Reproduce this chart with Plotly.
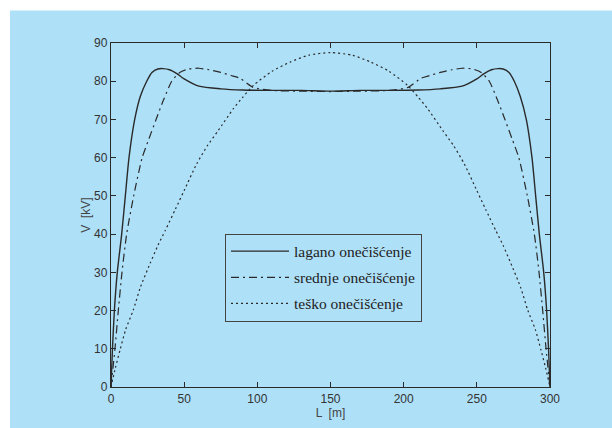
import plotly.graph_objects as go

# --- data ---
lagano_L = [0, 1, 2.3, 4.3, 7.3, 9.8, 12.3, 16.2, 20, 24.4, 28, 32, 35.5, 40, 45, 50, 60, 75, 90, 110, 130, 150,
            170, 190, 210, 225, 240, 250, 255, 260, 264.5, 268, 272, 275.6, 279.7, 283.8, 287.7, 290.2, 292.7,
            295.7, 297.7, 299, 300]
lagano_V = [0, 10, 20, 30, 40, 50, 60, 70, 76, 80, 82.3, 83.2, 83.3, 83, 82, 80.6, 78.7, 78, 77.7, 77.6, 77.6, 77.4,
            77.6, 77.6, 77.7, 78, 78.7, 80.6, 82, 83, 83.3, 83.2, 82.3, 80, 76, 70, 60, 50, 40,
            30, 20, 10, 0]

srednje_L = [0, 2.7, 5, 7.5, 10.7, 15.5, 21.3, 26, 30.8, 35.8, 41.5, 47, 53, 60, 67, 75, 82, 88, 97, 110, 130, 150,
             170, 190, 203, 212, 218, 225, 233, 240, 247, 253, 258.5, 264.2, 269.2, 274, 278.7, 284.5, 289.3,
             292.5, 295, 297.3, 300]
srednje_V = [0, 10, 20, 30, 40, 50, 60, 65, 70, 75, 80, 82.3, 83.2, 83.4, 83, 82.3, 81.5, 80.8, 78.4, 77.6, 77.4, 77.3,
             77.4, 77.6, 78.4, 80.8, 81.5, 82.3, 83, 83.4, 83.2, 82.3, 80, 75, 70, 65, 60, 50, 40,
             30, 20, 10, 0]

tesko_L = [0, 3, 6.2, 10, 15.2, 20, 26.7, 32, 37, 44, 50, 58.6, 66, 73.3, 83.6, 90, 97.3, 110, 122.4, 135, 150,
           165, 177.6, 190, 202.7, 210, 216.4, 226.7, 234, 241.4, 250, 256, 263, 268, 273.3, 280, 284.8, 290,
           293.8, 297, 300]
tesko_V = [0, 5, 9.7, 15, 20.1, 26, 32.3, 37, 40.9, 46.5, 51.4, 58.4, 63.2, 67.1, 72.8, 75.8, 78.9, 82.6, 85, 86.8, 87.5,
           86.8, 85, 82.6, 78.9, 75.8, 72.8, 67.1, 63.2, 58.4, 51.4, 46.5, 40.9, 37, 32.3, 26, 20.1, 15,
           9.7, 5, 0]

series_names = ["lagano onečišćenje", "srednje onečišćenje", "teško onečišćenje"]
x_ticks = [0, 50, 100, 150, 200, 250, 300]
y_ticks = [0, 10, 20, 30, 40, 50, 60, 70, 80, 90]

BLUE = "#aee0f8"
INK = "#2a2a2a"

fig = go.Figure()
styles = [
    dict(color=INK, width=1.4, dash="solid"),
    dict(color=INK, width=1.2, dash="8px,4px,2px,4px"),
    dict(color=INK, width=1.2, dash="2px,3px"),
]
for i, (xs, ys) in enumerate([(lagano_L, lagano_V), (srednje_L, srednje_V), (tesko_L, tesko_V)]):
    fig.add_trace(go.Scatter(
        x=xs, y=ys, mode="lines", name=series_names[i],
        line=dict(shape="spline", smoothing=0.6, **styles[i]),
        legendgroup=f"g{i}",
    ))

axis_common = dict(
    showgrid=False, zeroline=False, showline=True, linecolor=INK, linewidth=1.3,
    mirror="ticks", ticks="inside", ticklen=5, tickcolor=INK, tickwidth=1,
    tickfont=dict(family="Liberation Sans, Arial, sans-serif", size=12, color="#333"),
)

fig.update_layout(
    width=612, height=428,
    margin=dict(l=111, r=62, t=42.5, b=41),
    paper_bgcolor="white",
    plot_bgcolor=BLUE,
    showlegend=True,
    legend=dict(
        x=0.2597, y=0.446, xanchor="left", yanchor="top",
        bgcolor="rgba(0,0,0,0)", bordercolor="#444", borderwidth=1,
        font=dict(family="Liberation Serif, Times New Roman, serif", size=15.5, color="#222"),
        tracegroupgap=3, itemwidth=58,
    ),
    xaxis=dict(range=[0, 300], tickvals=x_ticks,
               title=dict(text="L  [m]", standoff=2,
                          font=dict(family="Liberation Sans, Arial, sans-serif", size=12, color="#444")),
               **axis_common),
    yaxis=dict(range=[0, 90], tickvals=y_ticks,
               title=dict(text="V  [kV]", standoff=0,
                          font=dict(family="Liberation Sans, Arial, sans-serif", size=12, color="#444")),
               **axis_common),
    shapes=[dict(type="rect", xref="paper", yref="paper", layer="below",
                 x0=(10 - 111) / 439, x1=(612 - 111) / 439,
                 y0=(387 - 440) / 344.5, y1=(387 - 10) / 344.5,
                 fillcolor=BLUE, line=dict(width=0))],
)

fig.write_html("out.html", config={"displayModeBar": False},
               post_script="document.body.style.margin='0';document.body.style.padding='0';"
                           "document.body.style.overflow='hidden';")
